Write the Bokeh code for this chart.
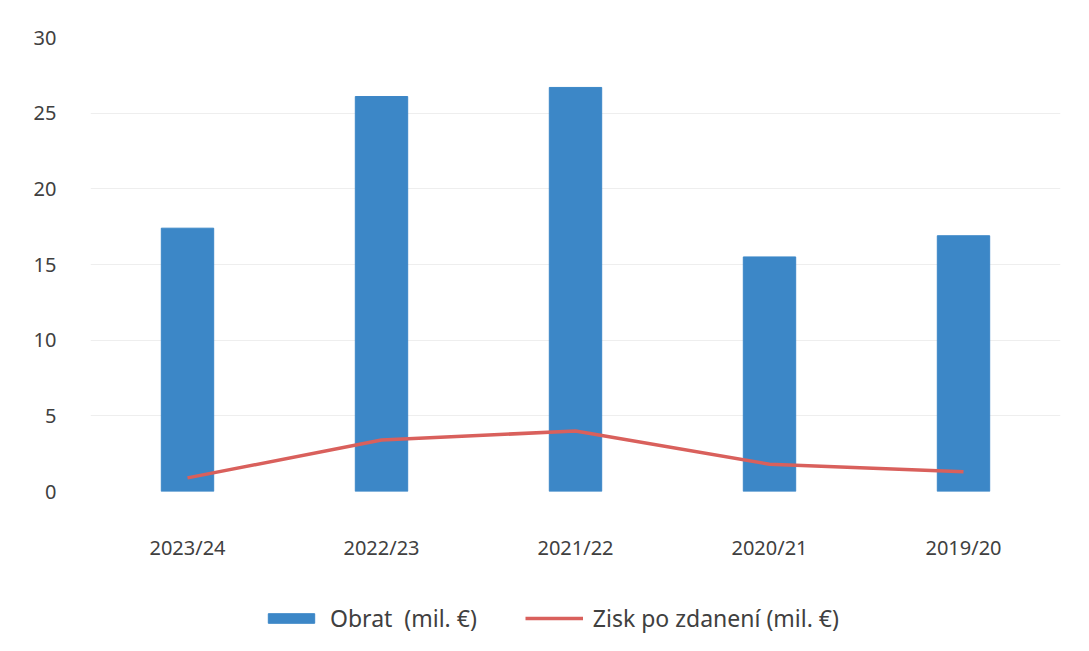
from bokeh.plotting import figure
from bokeh.layouts import column
from bokeh.models import Legend, LegendItem, Range1d, SingleIntervalTicker
from bokeh.embed import file_html
from bokeh.resources import INLINE

years = ["2023/24", "2022/23", "2021/22", "2020/21", "2019/20"]
obrat = [17.4, 26.1, 26.7, 15.5, 16.9]
zisk = [0.9, 3.4, 4.0, 1.8, 1.3]

FONT = "Noto Sans"
TXT = "#404040"
BAR = "#3C87C7"
LINE = "#D9605C"

p = figure(width=1073, height=575, x_range=years, y_range=Range1d(0, 30),
           output_backend="svg", toolbar_location=None,
           min_border_left=90, min_border_right=13, min_border_top=37,
           min_border_bottom=84)
p.outline_line_color = None

p.vbar(x=years, top=obrat, width=0.27, color=BAR)
p.line(x=years, y=zisk, line_color=LINE, line_width=3.5)

p.yaxis.ticker = SingleIntervalTicker(interval=5)
for ax in (p.xaxis[0], p.yaxis[0]):
    ax.axis_line_color = None
    ax.major_tick_line_color = None
    ax.minor_tick_line_color = None
    ax.major_label_text_font = FONT
    ax.major_label_text_font_size = "20px"
    ax.major_label_text_color = TXT
p.xaxis.major_label_standoff = 36
p.yaxis.major_label_standoff = 28
p.xgrid.grid_line_color = None
p.ygrid.grid_line_color = "#EEEEEE"
p.ygrid.grid_line_width = 1

# legend strip (its glyphs lie outside its own visible range)
lg = figure(width=1073, height=60, x_range=years, y_range=Range1d(100, 101),
            output_backend="svg", toolbar_location=None,
            x_axis_type=None, y_axis_type=None,
            min_border_left=0, min_border_right=0, min_border_top=0,
            min_border_bottom=0)
lg.outline_line_color = None
lb = lg.vbar(x=years, top=obrat, width=0.27, color=BAR)
ll = lg.line(x=years, y=zisk, line_color=LINE, line_width=3.5)

legend = Legend(items=[LegendItem(label="Obrat  (mil. €)", renderers=[lb]),
                       LegendItem(label="Zisk po zdanení (mil. €)", renderers=[ll])],
                orientation="horizontal", location=(172, 1),
                glyph_width=58, glyph_height=12, spacing=48,
                label_text_font=FONT, label_text_font_size="23px",
                label_text_color=TXT, border_line_color=None,
                background_fill_alpha=0,
                margin=0, padding=4, label_standoff=10)
lg.add_layout(legend, "center")

layout = column(p, lg, spacing=0)
open("out.html", "w").write(file_html(layout, INLINE))
